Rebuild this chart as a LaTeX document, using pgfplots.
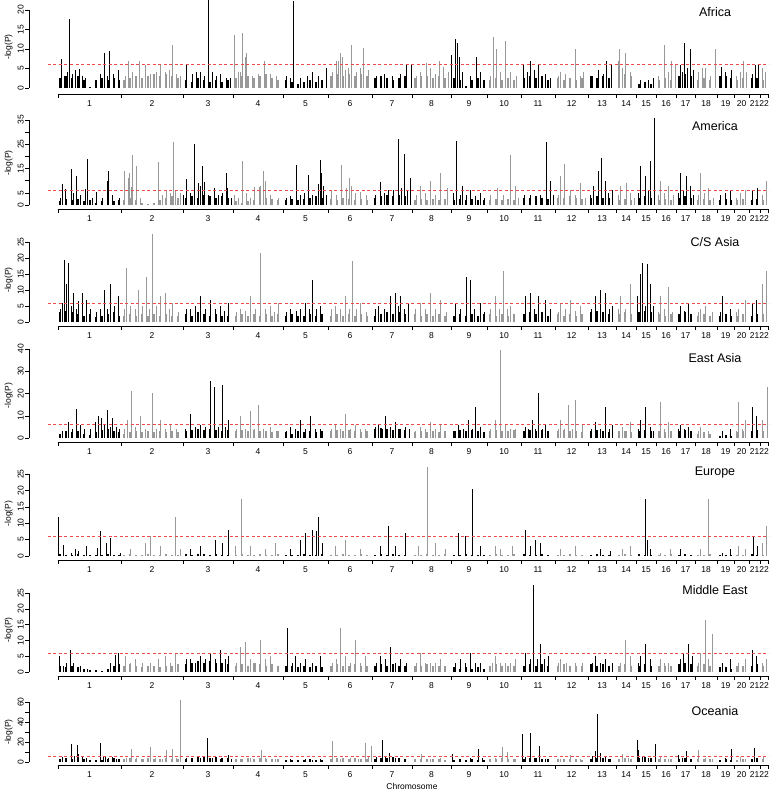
\documentclass[border=0pt]{standalone}
\usepackage{pgfplots}
\pgfplotsset{compat=1.18}
\usepackage{pgfplotstable}
\usepackage{fontspec}
\setmainfont{Liberation Sans}
\definecolor{evg}{gray}{0.6}
\definecolor{thrred}{rgb}{0.93,0.3,0.3}

\pgfplotstableread{
x Af Am CS EA Eu ME Oc
60 2.5 1.5 3 2 0.5 2 3
66 3 2.5 3.5 3 0.4 1.5 4
72 2.5 2 3 2.5 0.3 2 3
78 3 2.5 2.5 3 0.5 1.5 4
84 2 1.5 2 2 0.3 1 3
90 0.3 2 2.5 1.5 0.2 0.5 2
96 2 1 1.5 2.5 0.4 0.5 2
102 2.5 1.5 2 3.5 0.3 0.3 2
108 2 2 2.5 4 0.5 1 3
114 2.5 1.5 3 3 0.3 2 4
119 2 2 2 2.5 0.4 2.5 3
186 2 3 2.5 3 0.5 2.5 3
192 1.5 3.5 2 3.5 0.4 3 4
198 2.5 3 3 4 0.6 3.5 5
204 2 4 2.5 3.5 0.5 3 5
210 1.5 3.5 2 4 0.4 3.5 4
216 2 3 2.5 3.5 0.5 3 5
222 1.5 3.5 2 3 0.3 3 4
228 2 3 2 3.5 0.4 2.5 4
286 2 2 2 2.5 0.3 2 2
292 1.5 2.5 2.5 2 0.4 2 2
298 1 2 2 3 0.3 1.5 2.5
304 1.5 2.5 2 2.5 0.5 2 2
310 2 3 2.5 3 0.4 1.5 3
316 1.5 3.5 2 2.5 0.3 2 2
322 2 3 2.5 3 0.5 1.5 2
375 2.5 3 2 4 0.4 2 3
381 3 3.5 2.5 4.5 0.5 2.5 4
387 2.5 4 3 4 0.3 2 4
393 2 3.5 2.5 3.5 0.5 2.5 5
399 2.5 4 3 4 0.4 2 4
405 3 3.5 2.5 3.5 0.3 2 3
454 2.5 2 2 3 0.4 1.5 2
460 2 2.5 2.5 3.5 0.3 1 3
466 0.5 2 2 3 0.5 1.5 2
472 2 2.5 2.5 3.5 0.4 1 3
478 2.5 2 2 3 0.3 1.5 2
484 2 2 2.5 2.5 0.4 1 2
524 2.5 3 2.5 3 0.5 2 3
530 3 3 3 3.5 0.4 2.5 4
536 2.5 3.5 2.5 3 0.3 2 4
542 3 3 3 3.5 0.5 2.5 3
548 2 2.5 2 3 0.4 2 3
591 3 3 3 3 0.4 2.5 3
597 2.5 3.5 3.5 3.5 0.5 2 4
603 3 3 3 3 0.3 2.5 4
609 2.5 3 2.5 2.5 0.4 2 3
639 1 3 3 3 0.5 2 4
645 1.5 3.5 3.5 3.5 0.4 2.5 5
651 1 3 3 3 0.3 2 4
679 3 3 2.5 3 0.4 2.5 3
685 3.5 3.5 3 3.5 0.5 3 4
691 3 3 2.5 3 0.3 2.5 3
720 3 2 2 1 0.3 1.5 2
726 3 2.5 2.5 1.5 0.4 1.5 3
731 2.5 2 2 1 0.3 1 2
752 2.5 2 2 3 0.5 2 3
757 2.5 2.5 2.5 3.5 0.4 2.5 4
}\CluOdd

\pgfplotstableread{
x Af Am CS EA Eu ME Oc
124 2 2 2 2 0.4 2 3
130 2.5 3 2.5 2.5 0.5 2.5 4
136 3 2 2 3 0.3 2 3
142 2.5 1 2.5 2.5 0.4 1.5 3
148 3 0.5 2 3 0.5 2 4
154 3.5 1 2.5 2.5 0.3 2 3
160 3 2 2 3 0.4 1.5 3
166 3.5 3 2.5 2.5 0.5 2 4
172 3 3.5 2 3 0.3 2 3
178 2.5 3 2 2.5 0.4 2.5 3
236 2.5 1.5 2 3 0.4 2 3
242 3 1 2.5 3.5 0.5 2.5 3
248 3 1.5 2 3 0.3 2 4
254 2.5 2 2.5 3.5 0.4 3 3
260 3 2.5 2 3 0.5 2.5 4
266 3.5 3 2.5 3 0.3 2 3
272 2.5 2.5 2 2.5 0.4 2.5 3
278 2 2 2.5 3 0.5 2 3
331 3 2.5 2 3 0.4 2 3
337 3.5 2 2.5 3.5 0.3 2.5 4
343 3 3 2 3 0.5 2 4
349 3.5 2.5 2.5 3.5 0.4 2 3
355 3 2 2 3 0.3 2.5 4
361 3.5 2.5 2.5 2.5 0.5 2 3
367 3 2 2 3 0.4 2 3
415 2.5 2 2.5 2.5 0.4 2 3
421 3 2.5 2 3 0.3 2 3
427 3 2 2.5 2.5 0.5 2.5 3
433 2.5 2.5 2 3 0.4 2 3
439 3 2 2.5 2.5 0.3 2 3
445 2.5 2.5 2 3 0.5 2 2
490 2 2 2.5 3 0.4 2 3
496 2.5 2.5 2 3.5 0.5 2.5 3
502 2 2 2.5 3 0.3 2 4
508 2.5 2.5 2 3 0.4 2 3
514 2 2 2.5 3.5 0.5 2 3
558 2.5 3 2.5 3 0.4 2 3
564 2 3 2 3.5 0.3 2.5 3
570 2.5 3.5 2.5 3 0.5 2 3
576 2 3 2 3 0.4 2 3
582 2.5 2.5 2.5 2.5 0.3 2 2
619 3 2 2.5 3 0.4 2 3
625 3.5 2.5 3 3 0.5 2.5 4
631 3 2 2.5 2.5 0.4 2 3
659 2 2 2.5 3 0.4 2 3
665 2.5 2.5 2 2.5 0.3 2 3
671 2 2 2.5 3 0.5 2 3
698 2 2 2 2 0.4 2 3
704 2.5 2.5 2.5 2.5 0.3 2.5 3
710 2 2 2 2 0.5 2 3
737 2 2 2 2.5 0.4 2 2
743 2.5 2.5 2.5 3 0.3 2 3
763 2 2 2.5 3 0.4 2 3
}\CluEven

\pgfplotsset{
  manh/.style={
    scale only axis, x=1pt, xmin=29, xmax=769,
    anchor=south west,
    clip mode=individual,
    axis line style={draw=none},
    tick pos=left, tick align=outside,
    major tick length=3.5pt, minor tick length=3.5pt,
    tick style={black, line width=0.45pt},
    xtick={89.5,152,208,258,305.5,350,392,431.5,469,504,538,571.5,602,626,646,666,685.5,706,725.5,741.5,754.5,764},
    xticklabels={1,2,3,4,5,6,7,8,9,10,11,12,13,14,15,16,17,18,19,20,21,22},
    major x tick style={draw=none},
    minor xtick={58,121,183,233,283,328,372,412,451,487,521,555,588,616,636,656,676,695,717,734,749,760,768},
    ticklabel style={font=\fontsize{8.5}{10}\selectfont},
    yticklabel style={rotate=90, anchor=south, inner sep=1.5pt},
    ylabel={-log(P)},
    ylabel style={font=\fontsize{8.5}{10}\selectfont},
    /pgf/number format/assume math mode=true,
  },
  odd/.style={ycomb, black, line width=0.6pt, mark=none},
  even/.style={ycomb, evg, line width=0.6pt, mark=none},
  cluodd/.style={ycomb, black, line width=2.4pt, mark=none},
  clueven/.style={ycomb, evg, line width=2.4pt, mark=none},
  thr/.style={thrred, line width=0.55pt, dash pattern=on 3pt off 2.5pt, mark=none},
}
\newcommand{\axlines}[1]{%
  \draw[line width=0.45pt] ({axis cs:58,0}|-{rel axis cs:0,0}) -- ({axis cs:768,0}|-{rel axis cs:0,0});
  \draw[line width=0.45pt] (axis cs:29,0) -- (axis cs:29,#1);
}

\begin{document}
\begin{tikzpicture}
\useasboundingbox (0,0) rectangle (769pt,-792pt);

% ---------------- Africa
\begin{axis}[manh, at={(29pt,-94pt)}, y=3.9pt, ymin=-1.54, ymax=22.56,
  ytick={0,5,10,15,20}, yticklabels={0,5,10,15,20}]
\addplot[cluodd] table[x=x,y=Af] {\CluOdd};
\addplot[clueven] table[x=x,y=Af] {\CluEven};
\addplot[odd] coordinates {(61.5,7.5) (64,3) (67,4) (69.3,17.8) (72,3.5) (75,4.5) (79,4.8) (82,3) (85,2.5) (100,3.5) (104,9) (107,3) (109,9.5) (113,3.5) (118,4.5)
 (186,6) (192,3.5) (196,4) (200,4.2) (204,3) (208.3,26) (212,4) (216,3) (220,3.5) (226,2.5) (230,2.5)
 (286,3) (290,2.5) (293.3,22.3) (300,2.5) (307,3) (312.7,4) (318,3) (326,5)
 (376,3) (384,3.5) (392,3) (400,3.5) (406.7,6) (411,6)
 (451.7,8.5) (455.7,12.5) (457.3,11.5) (459,8) (462,4) (470,3) (476,8) (480,4)
 (523.3,6) (527,4) (530.7,7) (534,4.5) (538.3,6) (545,3.5) (550,2.5)
 (592,3) (598.3,4.5) (603,3.5) (606.7,7) (611,6)
 (640,2) (648,2) (653,2.5)
 (680,6) (682,4) (684.3,11.5) (687,5) (690,10) (693,4.5)
 (721,5.5) (725,4) (731.7,4.5)
 (752,3.5) (755.7,6) (758,6)};
\addplot[even] coordinates {(125,3) (128,7) (132,4) (139,7) (145,6) (150,3.5) (156,4) (160.7,6) (165,4) (169,4.5) (172,11) (176,3.5) (180,3)
 (234,13.5) (238,4) (240.7,4) (242.3,14) (245,8) (246.7,9) (252,3) (258,3.5) (264,7) (270,3.5) (276,3)
 (332,4) (336,7) (338.3,7) (340,9) (342.7,8) (345,4.5) (348.3,5) (351,11) (356,4) (360,5) (363.3,10.3) (368,4.5)
 (416,3) (420,4) (426.7,6.5) (430,5) (435,3.5) (439.3,7) (443,5.5) (448,4)
 (490,3) (493.3,13) (496,10) (500,4) (505,12) (510,4) (516,3)
 (558,3) (560,4) (565,3.5) (575.7,10) (580,3) (583.3,4)
 (618,7) (619.3,10) (622,5) (625.3,9) (630,4)
 (658,3) (664,11) (668,4) (671.7,7) (675,6)
 (698,4) (702,5) (705,5) (710,3) (715,10)
 (736,3) (740,4) (743.3,7) (746,4)
 (762,5) (765,4)};
\addplot[thr] coordinates {(48,6) (769,6)};
\axlines{20}
\end{axis}

% ---------------- America
\begin{axis}[manh, at={(29pt,-209pt)}, y=2.43pt, ymin=-1.646, ymax=36.21,
  ytick={0,5,10,15,20,25,30,35}, yticklabels={0,5,,15,,25,,35}]
\addplot[cluodd] table[x=x,y=Am] {\CluOdd};
\addplot[clueven] table[x=x,y=Am] {\CluEven};
\addplot[odd] coordinates {(60,3) (62.3,8.6) (65.7,6.6) (71.7,14.7) (73.3,5) (76.7,12) (80,4) (85.7,6.4) (87.7,19) (92,3) (96.7,5.5) (102,3) (107.3,10) (108.3,14) (112,4) (119.3,3)
 (183.3,4) (186.7,10.5) (190,5) (194.3,25) (198.3,9) (200,8) (202.3,16) (204.3,9.5) (208,4) (214.3,7) (218,4) (222,5) (226,13) (227.7,7) (231,3)
 (286,3) (290,3.5) (296,16.5) (300,4) (304,5) (308.3,12.4) (312,4) (318.3,8.6) (320.7,18.5) (321.7,13) (323,8) (326,4)
 (375,4) (380,9.5) (384,5) (388,6) (393,6) (398.3,27) (401,7) (404,21) (407,6) (410,11)
 (453,5) (456,26.5) (460,4) (462,8) (466,4) (470,6) (475,3.5) (480,5) (484,3)
 (524,4) (530,4) (535,3) (540,4) (546,26) (550,10) (553,4)
 (590,4) (593,8) (598,14) (601,19.5) (605,10) (608,5) (612,6)
 (638,5) (640,16) (645,12) (648,6) (650,18) (654,36)
 (678,5) (680,13) (683,6) (686,12) (690,8) (693,4)
 (720,4) (725,5) (730,6)
 (752,6) (757,7)};
\addplot[even] coordinates {(124,14) (128.3,11) (129.3,13) (131,7.5) (132.3,20.5) (136,16) (140,3) (158.3,17.5) (162,4) (166,6) (170,5) (173,26) (175.7,6) (180,5)
 (234.3,4) (238,3) (242.3,18) (246,5) (250,3) (254,7.5) (259,7.5) (260.7,8) (263.3,14) (265,10) (270,4) (278,3)
 (331.7,6) (336,4) (341.7,16.5) (346,7) (349.3,11) (351,8) (355,5) (360,5.5) (366,4)
 (416,4) (420,8) (425,5) (430,10) (435,4) (440,13) (447,7)
 (490,4) (497,7) (503,4) (510,20.5) (515,8) (518,3)
 (558,4) (560,12) (564,17) (570,6) (575,4) (580,9) (585,3)
 (618,4) (620,8) (626,9) (630,5) (634,3)
 (658,4) (660,10) (664,5) (668,8) (673,4)
 (698,4) (700,13) (704,5) (708,7) (713,3)
 (736,3) (740,5) (745,6)
 (762,4) (766,10)};
\addplot[thr] coordinates {(48,6) (769,6)};
\axlines{35}
\end{axis}

% ---------------- C/S Asia
\begin{axis}[manh, at={(29pt,-326pt)}, y=3.2pt, ymin=-1.25, ymax=27.5,
  ytick={0,5,10,15,20,25}, yticklabels={0,5,10,15,20,25}]
\addplot[cluodd] table[x=x,y=CS] {\CluOdd};
\addplot[clueven] table[x=x,y=CS] {\CluEven};
\addplot[odd] coordinates {(60,4) (62,6) (64,19.5) (66,12) (68,18.5) (71,5) (73,9) (76,4) (78,6.5) (82,9) (86,7) (90,4) (96,3) (100,4) (104,10) (107,4) (110,12) (114,5) (118,8)
 (186,4) (190,4) (195,5) (200,8) (205,4) (210,7) (215,4) (220,5) (224,3.5) (228,6)
 (286,3) (290,4) (296,3.5) (300,4) (305,6) (309,4) (312,13) (316,4) (320,5)
 (375,4) (378,5) (384,4) (390,8) (395,9) (398,5) (400,8) (404,4) (408,6)
 (455,6) (460,4) (466,14) (470,13) (474,4) (480,6) (484,3)
 (525,8) (530,9) (534,4) (538,8) (545,7) (550,4)
 (591,4) (595,8) (600,10) (605,9) (609,4) (612,5)
 (637,8) (640,15) (642,18.5) (645,5) (647,18) (650,12) (653,5)
 (680,5) (684,3.5) (688,6)
 (720,3) (722,8) (730,4)
 (752,6) (756,7)};
\addplot[even] coordinates {(124,4) (126,17) (130,5) (135,4) (138,10) (142,5) (146,14) (149,4) (152,27.5) (156,5) (160,8) (165,9) (169,4) (172,6) (178,3)
 (236,3) (240,4) (245,3.5) (250,8) (255,4) (260,21.5) (265,4) (270,5) (274,3) (278,6)
 (331,4) (335,5) (340,4) (345,8) (349,4) (352,19) (356,4) (360,6) (366,3)
 (415,4) (420,6) (425,4) (430,9) (435,4) (440,7) (446,3)
 (490,4) (495,8) (499,4) (503,16) (507,4) (510,5)
 (558,3) (560,6) (565,4) (570,7) (575,3.5) (580,5)
 (618,4) (620,8) (625,4) (630,12)
 (658,3) (660,8) (664,4) (668,11) (672,3)
 (698,3) (700,4) (705,5) (712,3)
 (736,3) (738,4) (745,7)
 (762,12) (766,16)};
\addplot[thr] coordinates {(48,6) (769,6)};
\axlines{25}
\end{axis}

% ---------------- East Asia
\begin{axis}[manh, at={(29pt,-442pt)}, y=2.225pt, ymin=-1.8, ymax=40,
  ytick={0,10,20,30,40}, yticklabels={0,10,20,30,40}]
\addplot[cluodd] table[x=x,y=EA] {\CluOdd};
\addplot[clueven] table[x=x,y=EA] {\CluEven};
\addplot[odd] coordinates {(62,3) (65,3) (68.3,7) (72,4) (76.7,13) (80,6) (84,4) (90,4) (95,7) (98,10) (101,9) (104,6) (107,12.5) (110,5) (112,9) (116,5) (119,4)
 (185,4) (190,11) (195,5) (200,6) (205,5) (210,25.5) (214,23) (218,5) (222,24) (225,5) (228,8)
 (286,3) (290,5) (295,4) (300,8) (305,4) (310,10) (315,4) (320,4)
 (375,5) (378,6) (382,4) (385,10) (390,5) (395,7) (400,4) (405,5) (409,4)
 (455,3) (458,6) (463,4) (468,8) (472,4) (475,14) (480,5)
 (525,5) (528,4) (532,8) (535,4) (538,20) (542,4) (545,6)
 (591,4) (595,7) (600,4) (605,14) (609,4) (612,6)
 (638,4) (640,8) (645,14) (650,5) (653,3)
 (678,4) (680,6) (684,4) (688,5)
 (722,3) (730,4)
 (752,14) (756,10)};
\addplot[even] coordinates {(124,4) (127,8) (131,21) (135,5) (140,10) (145,4) (152,20) (156,4) (160,8) (165,4) (170,6) (176,4)
 (236,4) (240,10) (245,4) (250,12) (254,4) (258,15) (263,4) (270,5) (276,3)
 (331,4) (335,6) (340,4) (345,11) (350,4) (355,6) (360,4) (365,4)
 (415,3) (420,5) (425,4) (430,7) (435,4) (440,6)
 (490,4) (495,8) (500,39.5) (505,6) (510,4) (515,4)
 (558,4) (560,8) (564,4) (568,15) (572,4) (575,17) (582,6)
 (618,3) (622,5) (626,3) (630,7)
 (658,3) (660,16) (664,4) (668,7)
 (698,3) (700,5) (708,3)
 (736,3) (738,16) (742,4) (745,8)
 (762,8) (767,23)};
\addplot[thr] coordinates {(48,6) (769,6)};
\axlines{40}
\end{axis}

% ---------------- Europe
\begin{axis}[manh, at={(29pt,-560pt)}, y=3.28pt, ymin=-1.22, ymax=27.13,
  ytick={0,5,10,15,20,25}, yticklabels={0,5,10,15,20,25}]
\addplot[cluodd] table[x=x,y=Eu] {\CluOdd};
\addplot[clueven] table[x=x,y=Eu] {\CluEven};
\addplot[odd] coordinates {(58.7,12) (63.3,3.5) (71,1) (75,2) (78.3,1.5) (86,3) (97.3,2.5) (100.7,7.5) (106,4) (110,5.5) (120,1)
 (190,2) (200,3) (215,5) (222,4) (228,8)
 (290,2) (300,5) (305,7) (312,8) (316,7.5) (318,12) (322,4)
 (380,3) (388,9) (395,3) (405,7)
 (458,7) (465,6) (472,20.5) (480,3)
 (525,8) (530,3) (535,5) (540,4)
 (600,2) (610,1.5)
 (645,17.5) (647,5) (650,2)
 (680,2)
 (722,1) (730,2)
 (753,6) (757,3)};
\addplot[even] coordinates {(130,2) (145,4) (150,6) (160,3) (175,12) (180,2)
 (235,3) (241,17.5) (250,3) (265,2) (275,4)
 (335,3) (345,5) (360,2)
 (418,3) (427,27) (435,4) (445,2)
 (495,3) (500,2) (512,3)
 (560,2) (575,3)
 (622,2) (630,3)
 (660,1) (670,2)
 (700,2) (708,17.5)
 (738,3) (745,2)
 (762,4) (766,9)};
\addplot[thr] coordinates {(48,6) (769,6)};
\axlines{25}
\end{axis}

% ---------------- Middle East
\begin{axis}[manh, at={(29pt,-676pt)}, y=3.16pt, ymin=-1.266, ymax=27.85,
  ytick={0,5,10,15,20,25}, yticklabels={0,5,10,15,20,25}]
\addplot[cluodd] table[x=x,y=ME] {\CluOdd};
\addplot[clueven] table[x=x,y=ME] {\CluEven};
\addplot[odd] coordinates {(59.3,5) (63,2) (66,3) (70,7) (73,3) (80,2) (87,1) (110,3) (115,5.5) (118,6)
 (186,4) (190,4) (195,3) (200,5) (205,4) (210,6) (215,4) (220,7) (225,4) (228,5)
 (287,14) (292,3) (295,5) (300,3) (305,4) (312,3) (320,5)
 (376,3) (380,5) (385,4) (390,8) (395,3) (400,4) (406,3)
 (455,3) (460,4) (465,3) (470,6) (475,3) (480,3)
 (525,6) (530,4) (533,27.5) (537,4) (540,9) (544,4) (548,5)
 (592,3) (595,5) (600,3) (605,4) (612,3)
 (638,3) (640,5) (645,9) (650,4)
 (680,4) (683,6) (688,9) (692,5)
 (722,3) (730,4)
 (752,7) (756,5)};
\addplot[even] coordinates {(125,5) (130,3) (135,4) (142,3) (150,3) (158,4) (165,5) (170,3) (175,6)
 (236,3) (240,8) (245,9.5) (250,4) (255,3) (260,10) (265,4) (270,5)
 (332,3) (336,4) (340,14) (345,5) (350,3) (355,10) (360,3) (365,5)
 (416,3) (420,6) (425,3) (430,3) (435,3) (440,4)
 (492,3) (495,5) (500,3) (505,3) (510,3) (515,4)
 (558,3) (560,4) (566,3) (575,3) (582,3)
 (620,3) (625,10) (630,5)
 (660,4) (664,3) (668,3)
 (698,3) (700,6) (705,16.5) (708,4) (712,12)
 (738,3) (745,4)
 (762,3) (766,4)};
\addplot[thr] coordinates {(48,6) (769,6)};
\axlines{25}
\end{axis}

% ---------------- Oceania
\begin{axis}[manh, at={(29pt,-765pt)}, y=1pt, ymin=-3, ymax=63,
  ytick={0,10,20,30,40,50,60}, yticklabels={0,,20,,40,,60}]
\addplot[cluodd] table[x=x,y=Oc] {\CluOdd};
\addplot[clueven] table[x=x,y=Oc] {\CluEven};
\addplot[odd] coordinates {(62,5) (66,4) (71,18.3) (74,6) (77,16.7) (78.4,7.7) (82,5) (86,4) (100.5,19.3) (103,6) (105.4,5) (108,4) (112,5) (116,3)
 (186,4) (192,3) (200,4) (207.4,24) (212,4) (220,3) (228,6.7) (231,3)
 (290,3) (298,2.5) (305,3) (312,2.5) (320,3)
 (376,5) (382.4,21.7) (385,6) (389,9) (395,4) (405,3)
 (452,7.7) (460,3) (470,4) (478,13.3) (482,4)
 (522,27.7) (525,5) (530.4,29) (534,4) (539.2,16) (545,3)
 (592,6) (595,11) (597,48.3) (600,9) (605,5) (610,3)
 (637,21.7) (638.5,11.7) (642,5) (648,4) (655.4,17.7)
 (678,6.7) (682,4) (686.3,10.7) (690,3)
 (725,4) (731.4,12.7)
 (754,14.3) (757,4)};
\addplot[even] coordinates {(126,4) (131.4,13.3) (136,4) (143,3) (150.5,15) (155,4) (162,3) (166.7,11.7) (172.5,13) (176,4) (180.4,61.7)
 (240,3) (250,4) (260.8,12.3) (265,4) (275,3)
 (332.4,20.7) (340,3) (350,4) (358,3) (365.2,19.3) (368,5) (371,16)
 (421.6,8.3) (430,3) (440,4)
 (495,4) (502.5,15) (507,10) (515,3)
 (560,3) (570,6.7) (580,3)
 (622,8) (628,4)
 (660,5) (668,3)
 (698,11.7) (705,4) (712,3)
 (740,5) (745,3)
 (763,5.7)};
\addplot[thr] coordinates {(48,6) (769,6)};
\axlines{60}
\end{axis}

\begin{scope}[every node/.style={font=\fontsize{12.5}{14}\selectfont}]
\node at (715pt,-12pt) {Africa};
\node at (715pt,-126pt) {America};
\node at (715pt,-242pt) {C/S Asia};
\node at (715pt,-358pt) {East Asia};
\node at (715pt,-472pt) {Europe};
\node at (715pt,-590pt) {Middle East};
\node at (715pt,-711pt) {Oceania};
\end{scope}
\node[font=\fontsize{8.5}{10}\selectfont] at (412pt,-786pt) {Chromosome};
\end{tikzpicture}
\end{document}
